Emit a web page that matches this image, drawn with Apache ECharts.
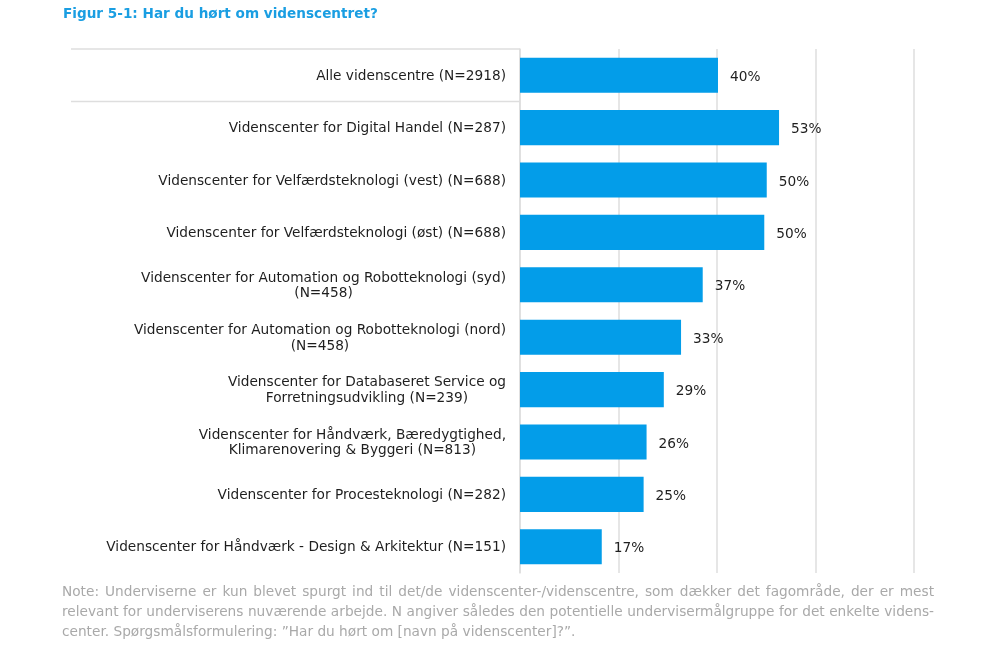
<!DOCTYPE html>
<html>
<head>
<meta charset="utf-8">
<script src="https://cdn.jsdelivr.net/npm/echarts@6/dist/echarts.min.js"></script>
<style>
  html, body { margin: 0; padding: 0; background: #fff; }
  #chart { width: 1008px; height: 665px; }
</style>
</head>
<body>
<div id="chart"></div>
<script>
// data
var centres = [
  'Alle videnscentre (N=2918)',
  'Videnscenter for Digital Handel (N=287)',
  'Videnscenter for Velfærdsteknologi (vest) (N=688)',
  'Videnscenter for Velfærdsteknologi (øst) (N=688)',
  'Videnscenter for Automation og Robotteknologi (syd)\n(N=458)',
  'Videnscenter for Automation og Robotteknologi (nord)\n(N=458)',
  'Videnscenter for Databaseret Service og\nForretningsudvikling (N=239)',
  'Videnscenter for Håndværk, Bæredygtighed,\nKlimarenovering & Byggeri (N=813)',
  'Videnscenter for Procesteknologi (N=282)',
  'Videnscenter for Håndværk - Design & Arkitektur (N=151)'
];
var heard = [40.2, 52.6, 50.1, 49.6, 37.1, 32.7, 29.2, 25.7, 25.1, 16.6];
var xTicks = [0, 20, 40, 60, 80];

var title = 'Figur 5-1: Har du hørt om videnscentret?';
var noteLines = [
  'Note: Underviserne er kun blevet spurgt ind til det/de videnscenter-/videnscentre, som dækker det fagområde, der er mest',
  'relevant for underviserens nuværende arbejde. N angiver således den potentielle undervisermålgruppe for det enkelte videns-',
  'center. Spørgsmålsformulering: \u201dHar du hørt om [navn på videnscenter]?\u201d.'
];

var FONT = 'DejaVu Sans, Verdana, sans-serif';
var FS = 13.7;
var gridTop = 49, gridBottom = 92, gridLeft = 520, gridRight = 94;
var band = (665 - gridTop - gridBottom) / centres.length;

// the note is set justified in the source: spread the words of all but the last line
var measure = document.createElement('canvas').getContext('2d');
measure.font = FS + 'px ' + FONT;
function noteText(lines, x0, y0, width, lh) {
  var out = [];
  lines.forEach(function (line, i) {
    var y = y0 + i * lh;
    var style = { fontFamily: FONT, fontSize: FS, fill: '#a9a9a9', verticalAlign: 'middle' };
    if (i === lines.length - 1) {
      out.push({ type: 'text', x: x0, y: y, style: Object.assign({ text: line }, style) });
      return;
    }
    var words = line.split(' ');
    var widths = words.map(function (w) { return measure.measureText(w).width; });
    var total = widths.reduce(function (a, b) { return a + b; }, 0);
    var gap = (width - total) / (words.length - 1);
    var x = x0;
    words.forEach(function (w, j) {
      out.push({ type: 'text', x: x, y: y, style: Object.assign({ text: w }, style) });
      x += widths[j] + gap;
    });
  });
  return out;
}

var chart = echarts.init(document.getElementById('chart'));

var option = {
  animation: false,
  title: {
    text: title,
    left: 58,
    top: 2,
    textStyle: { fontFamily: FONT, fontSize: 13.6, fontWeight: 'bold', color: '#1a9ee2' }
  },
  grid: { left: gridLeft, right: gridRight, top: gridTop, bottom: gridBottom },
  xAxis: {
    type: 'value',
    min: xTicks[0],
    max: xTicks[xTicks.length - 1],
    interval: 20,
    axisLabel: { show: false },
    axisTick: { show: false },
    axisLine: { show: false },
    splitLine: { lineStyle: { color: '#dedede', width: 1.5 } }
  },
  yAxis: {
    type: 'category',
    inverse: true,
    data: centres,
    axisTick: { show: false },
    axisLine: { lineStyle: { color: '#dedede', width: 1.5 } },
    axisLabel: {
      interval: 0,
      margin: 14,
      fontFamily: FONT,
      fontSize: FS,
      color: '#1e1e1e',
      padding: [2, 0, 0, 0],
      formatter: function (v) {
        return v.split('\n').map(function (l) { return '{c|' + l + '}'; }).join('\n');
      },
      rich: {
        c: { align: 'center', fontFamily: FONT, fontSize: FS, lineHeight: 15.5, color: '#1e1e1e' }
      }
    }
  },
  series: [{
    type: 'bar',
    data: heard,
    barCategoryGap: '33%',
    itemStyle: { color: '#039de9' },
    label: {
      show: true,
      position: 'right',
      distance: 12,
      offset: [0, 2],
      fontFamily: FONT,
      fontSize: FS,
      color: '#1e1e1e',
      formatter: function (p) { return Math.round(p.value) + '%'; }
    }
  }],
  graphic: [
    { type: 'line', shape: { x1: 71, y1: gridTop, x2: gridLeft, y2: gridTop },
      style: { stroke: '#dedede', lineWidth: 1.5 } },
    { type: 'line', shape: { x1: 71, y1: gridTop + band, x2: gridLeft, y2: gridTop + band },
      style: { stroke: '#dedede', lineWidth: 1.5 } }
  ].concat(noteText(noteLines, 62, 592, 872, 20))
};

chart.setOption(option);
</script>
</body>
</html>
